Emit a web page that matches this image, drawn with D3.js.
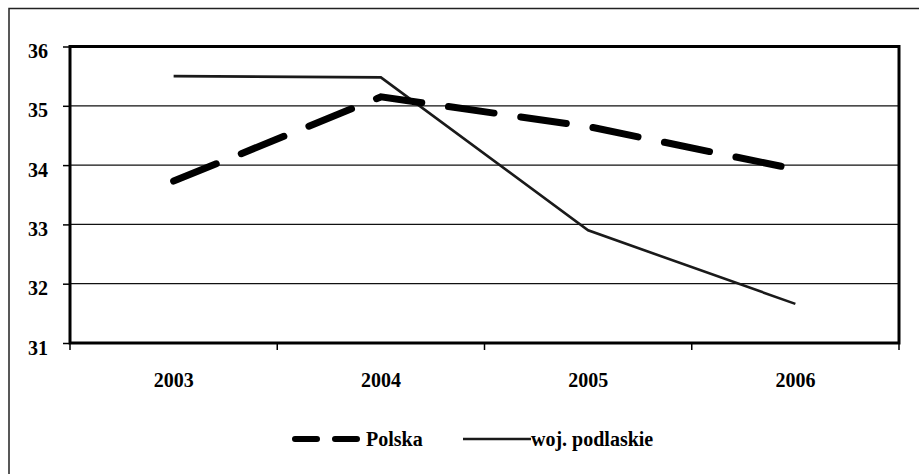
<!DOCTYPE html>
<html>
<head>
<meta charset="utf-8">
<script src="https://cdn.jsdelivr.net/npm/d3@7"></script>
<style>
  body { margin: 0; background: #fff; }
  text { font-family: "Liberation Serif", "Times New Roman", serif; font-weight: bold; font-size: 20px; fill: #000; }
</style>
</head>
<body>
<script>
// data
var years = ["2003", "2004", "2005", "2006"];
var polska = [33.73, 35.15, 34.65, 33.93];
var podlaskie = [35.5, 35.48, 32.9, 31.66];
var yTicks = [31, 32, 33, 34, 35, 36];
var seriesNames = ["Polska", "woj. podlaskie"];

var W = 919, H = 474;
var margin = {top: 46.5, right: 20, bottom: 131, left: 70};
var width = 899 - margin.left,
    height = 343 - margin.top;

var svg = d3.select("body").append("svg")
  .attr("width", W)
  .attr("height", H);

// outer chart border
svg.append("rect")
  .attr("x", 9).attr("y", 8.5)
  .attr("width", 930).attr("height", 480)
  .attr("fill", "none")
  .attr("stroke", "#222")
  .attr("stroke-width", 1.5);

var g = svg.append("g")
  .attr("transform", "translate(" + margin.left + "," + margin.top + ")");

var x = d3.scaleBand()
  .domain(years)
  .range([0, width]);

var y = d3.scaleLinear()
  .domain([31, 36])
  .range([height, 0]);

// gridlines
g.append("g").selectAll("line")
  .data(yTicks.slice(1, -1))
  .enter().append("line")
  .attr("x1", 0).attr("x2", width)
  .attr("y1", function(d) { return y(d); })
  .attr("y2", function(d) { return y(d); })
  .attr("stroke", "#111")
  .attr("stroke-width", 1.3);

// y axis
var yAxis = g.append("g")
  .call(d3.axisLeft(y).tickValues(yTicks).tickSize(7).tickFormat(d3.format("d")));
yAxis.select(".domain").remove();
yAxis.selectAll(".tick line").attr("stroke", "#000").attr("stroke-width", 1.5);
yAxis.selectAll(".tick text")
  .attr("x", -22)
  .attr("dy", "0.55em")
  .style("font-family", null).style("font-size", null);

// x axis: ticks between categories
var bounds = years.map(function(d) { return x(d); }).concat([width]);
g.append("g").selectAll("line")
  .data(bounds)
  .enter().append("line")
  .attr("x1", function(d) { return d; })
  .attr("x2", function(d) { return d; })
  .attr("y1", height).attr("y2", height + 7)
  .attr("stroke", "#000")
  .attr("stroke-width", 1.5);

g.append("g").selectAll("text")
  .data(years)
  .enter().append("text")
  .attr("x", function(d) { return x(d) + x.bandwidth() / 2; })
  .attr("y", height + 44)
  .attr("text-anchor", "middle")
  .text(function(d) { return d; });

// plot frame
g.append("rect")
  .attr("x", 0).attr("y", 0)
  .attr("width", width).attr("height", height)
  .attr("fill", "none")
  .attr("stroke", "#000")
  .attr("stroke-width", 3);

var line = d3.line()
  .x(function(d, i) { return x(years[i]) + x.bandwidth() / 2; })
  .y(function(d) { return y(d); });

g.append("path")
  .datum(podlaskie)
  .attr("d", line)
  .attr("fill", "none")
  .attr("stroke", "#1a1a1a")
  .attr("stroke-width", 2.6);

g.append("path")
  .datum(polska)
  .attr("d", line)
  .attr("fill", "none")
  .attr("stroke", "#000")
  .attr("stroke-width", 7)
  .attr("stroke-linecap", "round")
  .attr("stroke-dasharray", "46,27");

// legend
var legend = svg.append("g");
legend.append("line")
  .attr("x1", 295).attr("x2", 357)
  .attr("y1", 439).attr("y2", 439)
  .attr("stroke", "#000")
  .attr("stroke-width", 6)
  .attr("stroke-linecap", "round")
  .attr("stroke-dasharray", "22,18");
legend.append("text")
  .attr("x", 366).attr("y", 446)
  .text(seriesNames[0]);
legend.append("line")
  .attr("x1", 463).attr("x2", 531)
  .attr("y1", 439).attr("y2", 439)
  .attr("stroke", "#1a1a1a")
  .attr("stroke-width", 2.6);
legend.append("text")
  .attr("x", 531).attr("y", 446)
  .text(seriesNames[1]);
</script>
</body>
</html>
